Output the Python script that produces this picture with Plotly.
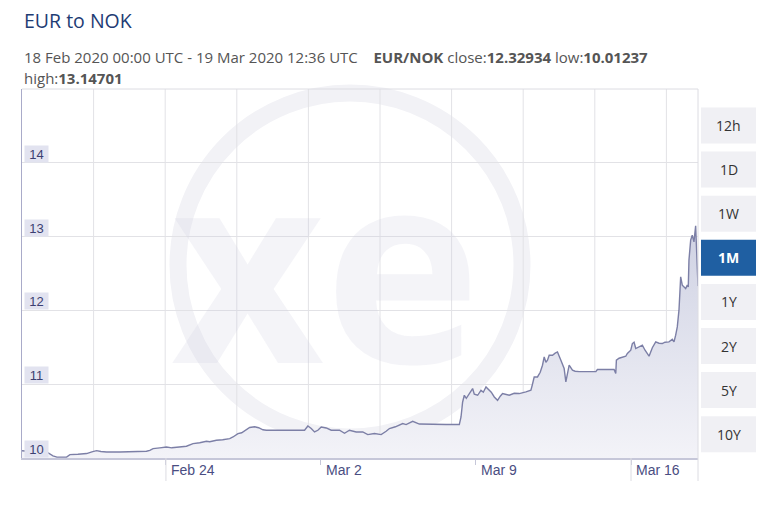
import pandas as pd
import plotly.graph_objects as go

# ---------------- data ----------------
start_time = pd.Timestamp("2020-02-18 00:00")
end_time = pd.Timestamp("2020-03-19 12:36")

# time of each sample, in days after 18 Feb 2020 00:00 UTC
days = [0.000, 0.812, 1.186, 1.398, 1.578, 2.015, 2.164, 2.525, 2.917, 3.156,
        3.368, 3.562, 3.819, 4.418, 5.005, 5.622, 5.771, 5.920, 6.222, 6.524,
        6.763, 6.975, 7.214, 7.426, 7.723, 8.025, 8.327, 8.476, 8.778, 9.062,
        9.378, 9.527, 9.752, 9.919, 10.099, 10.280, 10.505, 10.685, 10.879, 11.033,
        12.759, 12.908, 13.061, 13.210, 13.359, 13.512, 13.738, 13.963, 14.337, 14.563,
        14.788, 15.090, 15.388, 15.613, 15.915, 16.217, 16.443, 16.592, 16.862, 17.191,
        17.344, 17.642, 17.944, 18.544, 19.148, 19.747, 19.824, 19.897, 19.973, 20.063,
        20.198, 20.347, 20.424, 20.573, 20.726, 20.830, 20.951, 21.100, 21.190, 21.326,
        21.474, 21.596, 21.700, 21.822, 22.002, 22.227, 22.453, 22.755, 22.980, 23.039,
        23.129, 23.278, 23.400, 23.503, 23.580, 23.657, 23.729, 23.805, 23.954, 24.076,
        24.179, 24.333, 24.481, 24.558, 24.630, 24.707, 24.856, 24.977, 25.158, 25.911,
        25.983, 26.736, 26.812, 26.840, 26.961, 27.110, 27.263, 27.335, 27.489, 27.561,
        27.638, 27.714, 27.863, 28.012, 28.134, 28.237, 28.314, 28.463, 28.616, 28.765,
        28.914, 29.035, 29.139, 29.216, 29.364, 29.441, 29.517, 29.590, 29.666, 29.698,
        29.743, 29.815, 29.968, 30.041, 30.086, 30.117, 30.194, 30.266, 30.343, 30.419,
        30.447, 30.491, 30.525]

rates = [10.098, 10.084, 10.068, 10.030, 10.012, 10.012, 10.046, 10.050, 10.060, 10.084,
         10.100, 10.088, 10.081, 10.081, 10.084, 10.091, 10.104, 10.127, 10.138, 10.149,
         10.138, 10.141, 10.152, 10.159, 10.195, 10.206, 10.226, 10.220, 10.240, 10.247,
         10.263, 10.285, 10.331, 10.342, 10.382, 10.414, 10.423, 10.410, 10.382, 10.376,
         10.376, 10.434, 10.399, 10.353, 10.376, 10.420, 10.407, 10.376, 10.376, 10.335,
         10.376, 10.353, 10.353, 10.317, 10.331, 10.317, 10.362, 10.399, 10.423, 10.466,
         10.453, 10.498, 10.460, 10.453, 10.453, 10.453, 10.556, 10.759, 10.850, 10.809,
         10.873, 10.941, 10.864, 10.850, 10.918, 10.891, 10.963, 10.918, 10.891, 10.827,
         10.782, 10.837, 10.873, 10.864, 10.850, 10.877, 10.873, 10.895, 10.918, 10.986,
         11.098, 11.098, 11.162, 11.257, 11.369, 11.298, 11.325, 11.393, 11.393, 11.420,
         11.437, 11.325, 11.212, 11.031, 11.135, 11.257, 11.189, 11.176, 11.170, 11.170,
         11.199, 11.199, 11.144, 11.325, 11.352, 11.369, 11.379, 11.416, 11.460, 11.551,
         11.569, 11.483, 11.505, 11.528, 11.460, 11.416, 11.379, 11.494, 11.573, 11.555,
         11.551, 11.569, 11.573, 11.573, 11.609, 11.573, 11.664, 11.776, 12.003, 12.229,
         12.454, 12.342, 12.297, 12.342, 12.319, 12.681, 12.952, 13.020, 12.929, 13.147,
         12.907, 12.454, 12.329]

y_ticks = [10, 11, 12, 13, 14]
y_range = [10, 15]
x_tick_dates = ["2020-02-24 12:00", "2020-03-02 12:00", "2020-03-09 12:00", "2020-03-16 12:00"]
x_tick_labels = ["Feb 24", "Mar 2", "Mar 9", "Mar 16"]
buttons = ["12h", "1D", "1W", "1M", "1Y", "2Y", "5Y", "10Y"]
active_button = "1M"

title_text = "EUR to NOK"
range_text = "18 Feb 2020 00:00 UTC - 19 Mar 2020 12:36 UTC"
pair_text = "EUR/NOK"
close_val, low_val, high_val = "12.32934", "10.01237", "13.14701"

# ---------------- layout geometry (page pixels) ----------------
W, H = 782, 518
OFF = 8                          # default page margin around the figure
L, R, T, B = 22, 698, 89, 458    # plot area edges in page pixels


def px_x(px):
    return (px - L) / (R - L)


def px_y(py):
    return (B - py) / (B - T)


times = [start_time + pd.to_timedelta(d, unit="D") for d in days]

axis_font = "Liberation Sans, Arial, sans-serif"
ui_font = "Open Sans, sans-serif"

fig = go.Figure()
fig.add_trace(go.Scatter(
    x=times, y=rates, mode="lines",
    line=dict(color="#7c7fa6", width=1.4),
    fill="tozeroy",
    fillgradient=dict(type="vertical",
                      colorscale=[[0, "#f3f3f8"], [1, "#cdd0e2"]],
                      start=10, stop=13.3),
    hoverinfo="skip", showlegend=False,
))

shapes = []
# watermark ring
cx, cy, rad = 350, 265, 172
shapes.append(dict(type="circle", xref="paper", yref="paper",
                   x0=px_x(cx - rad), x1=px_x(cx + rad), y0=px_y(cy + rad), y1=px_y(cy - rad),
                   line=dict(color="#f2f2f6", width=17), layer="below"))
# vertical grid lines (evenly spaced in the plot area)
k = 1
while L + k * 71.6 < R - 5:
    shapes.append(dict(type="line", xref="paper", yref="paper",
                       x0=px_x(L + k * 71.6), x1=px_x(L + k * 71.6), y0=0, y1=1,
                       line=dict(color="#e2e2e6", width=1), layer="below"))
    k += 1
# top and right border
shapes.append(dict(type="line", xref="paper", yref="paper", x0=0, x1=1, y0=1, y1=1,
                   line=dict(color="#dcdce2", width=1)))
shapes.append(dict(type="line", xref="paper", yref="paper", x0=1, x1=1, y0=px_y(481), y1=1,
                   line=dict(color="#dcdce2", width=1)))
# long tick marks
for d in [x_tick_dates[0], x_tick_dates[3]]:
    shapes.append(dict(type="line", xref="x", yref="paper", x0=d, x1=d, y0=px_y(481), y1=0,
                       line=dict(color="#dcdce2", width=1)))

annotations = []
# watermark letters
annotations.append(dict(text="<b>xe</b>", xref="paper", yref="paper",
                        x=px_x(326), y=px_y(260), xanchor="center", yanchor="middle",
                        showarrow=False,
                        font=dict(family=ui_font, size=265, color="rgba(205,205,222,0.22)")))
# y tick labels with boxes
for v in y_ticks:
    annotations.append(dict(text=str(v), xref="paper", yref="y", x=0, y=v,
                            xanchor="left", yanchor="bottom", xshift=2, yshift=0,
                            showarrow=False, bgcolor="#e2e3f0", borderpad=1,
                            width=21, height=14, align="center",
                            font=dict(family=axis_font, size=13, color="#3c3f72")))
# x tick labels, left aligned after the tick
for d, lab in zip(x_tick_dates, x_tick_labels):
    annotations.append(dict(text=lab, xref="x", yref="paper", x=d, y=px_y(470),
                            xanchor="left", yanchor="middle", xshift=3,
                            showarrow=False,
                            font=dict(family=axis_font, size=14, color="#4a4d82")))
# title and info
annotations.append(dict(text=title_text, xref="paper", yref="paper", x=px_x(22), y=px_y(20),
                        xanchor="left", yanchor="middle", showarrow=False,
                        font=dict(family=ui_font, size=19.5, color="#1e3c74")))
sp = "\u00a0" * 4
info1 = (f"{range_text}{sp}<b>{pair_text}</b> close:<b>{close_val}</b> low:<b>{low_val}</b>")
annotations.append(dict(text=info1, xref="paper", yref="paper", x=px_x(22), y=px_y(57),
                        xanchor="left", yanchor="middle", showarrow=False,
                        font=dict(family=ui_font, size=15, color="#555555")))
annotations.append(dict(text=f"high:<b>{high_val}</b>", xref="paper", yref="paper",
                        x=px_x(22), y=px_y(78), xanchor="left", yanchor="middle",
                        showarrow=False,
                        font=dict(family=ui_font, size=15, color="#555555")))
# range buttons
bx0, bx1 = 701, 756
for i, b in enumerate(buttons):
    top = 107.5 + i * 44.1
    bot = top + 36
    active = (b == active_button)
    shapes.append(dict(type="rect", xref="paper", yref="paper",
                       x0=px_x(bx0), x1=px_x(bx1), y0=px_y(bot), y1=px_y(top),
                       fillcolor="#1f5fa2" if active else "#f0f0f4", line=dict(width=0)))
    annotations.append(dict(text=f"<b>{b}</b>" if active else b, xref="paper", yref="paper",
                            x=px_x((bx0 + bx1) / 2), y=px_y((top + bot) / 2),
                            xanchor="center", yanchor="middle", showarrow=False,
                            font=dict(family=ui_font, size=14,
                                      color="#ffffff" if active else "#333333")))

fig.update_layout(
    width=W - OFF, height=H - OFF,
    margin=dict(l=L - OFF, r=W - R, t=T - OFF, b=H - B, pad=0),
    paper_bgcolor="white", plot_bgcolor="white",
    shapes=shapes, annotations=annotations,
    xaxis=dict(range=[start_time, end_time], showgrid=False, zeroline=False,
               showline=True, linecolor="#c6c7d9", linewidth=2,
               ticks="outside", ticklen=5, tickcolor="#c6c7d9",
               tickvals=x_tick_dates, showticklabels=False, fixedrange=True),
    yaxis=dict(range=y_range, showgrid=True, gridcolor="#e2e2e6", gridwidth=1,
               tickvals=y_ticks, showticklabels=False, zeroline=False,
               showline=True, linecolor="#a9abc9", linewidth=1, ticks="",
               fixedrange=True),
    hovermode=False,
)

fig.write_html("out.html")
